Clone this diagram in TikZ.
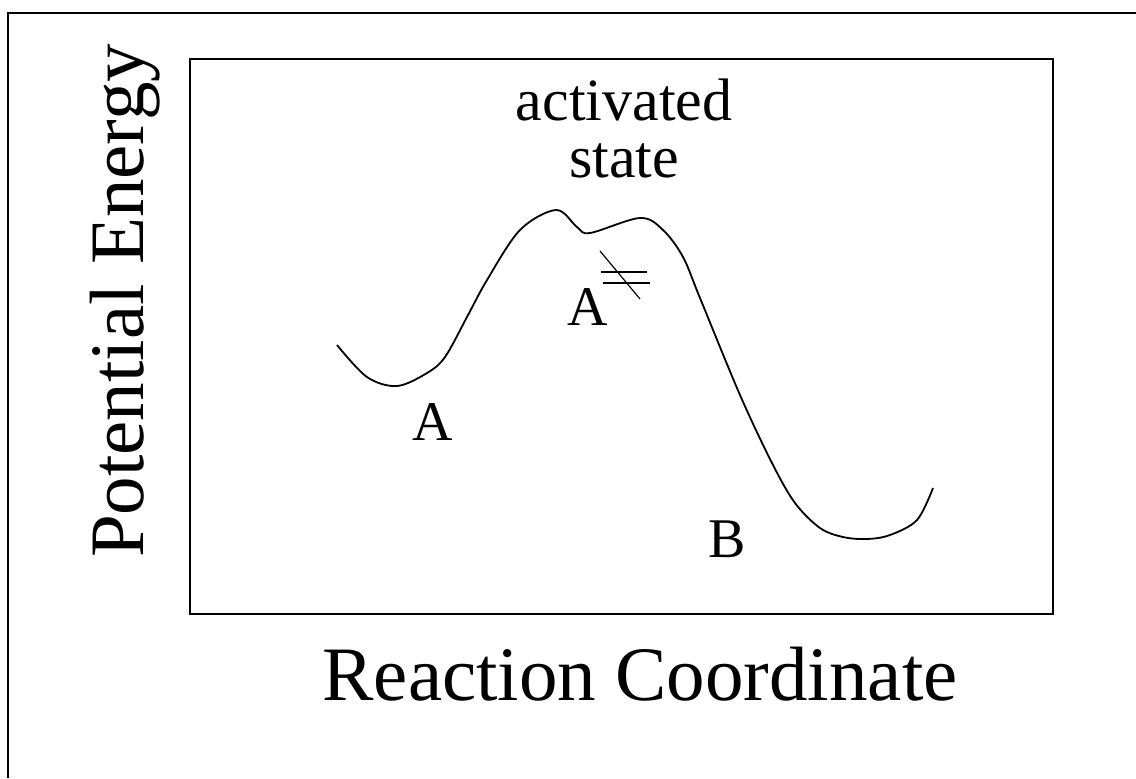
\documentclass[tikz,border=0pt]{standalone}
\usepackage{fontspec}
\setmainfont{Liberation Serif}
\usepackage{tikz}

\begin{document}
\begin{tikzpicture}[
    x=0.5pt,y=-0.5pt,
    axislabel/.style={inner sep=0pt,font=\fontsize{38.5}{40}\selectfont},
    statelabel/.style={inner sep=0pt,font=\fontsize{28}{27.5}\selectfont},
    toplabel/.style={inner sep=0pt,align=center,font=\fontsize{30}{28.5}\selectfont},
    curve/.style={line width=0.9pt,line join=round}
]
\useasboundingbox (0,0) rectangle (1136,778);
% frames
\draw[line width=0.75pt] (8,778) -- (8,13) -- (1136,13);
\draw[line width=1pt] (190,59) rectangle (1053,614);
% axis titles
\node[axislabel,rotate=90,anchor=base] (energy) at (143,301) {Potential Energy};
\node[axislabel,anchor=base] (coord) at (640,700) {Reaction Coordinate};
% energy profile
\draw[curve] plot[smooth,tension=0.55] coordinates {
    (337,345) (367,377) (397,386) (427,373) (445,357) (467,317)
    (487,280) (520,230) (556,210) (577,227) (590,233) (640,218)
    (663,230) (683,257) (700,298) (740,395) (772,463) (795,503)
    (820,528) (843,537) (867,539) (890,535) (917,520) (933,488)};
% labels
\node[toplabel] (active) at (624,128) {activated\\state};
\node[statelabel,anchor=base] (reactant) at (433,440) {A};
\node[statelabel,anchor=base] (complex) at (588,325) {A};
\node[statelabel,anchor=base] (product) at (727,557) {B};
% double dagger mark on the activated complex
\draw[line width=0.6pt] (601,272) -- (647,272);
\draw[line width=0.6pt] (603,283) -- (650,283);
\draw[line width=0.6pt] (600,251) -- (640,299);
\end{tikzpicture}
\end{document}
